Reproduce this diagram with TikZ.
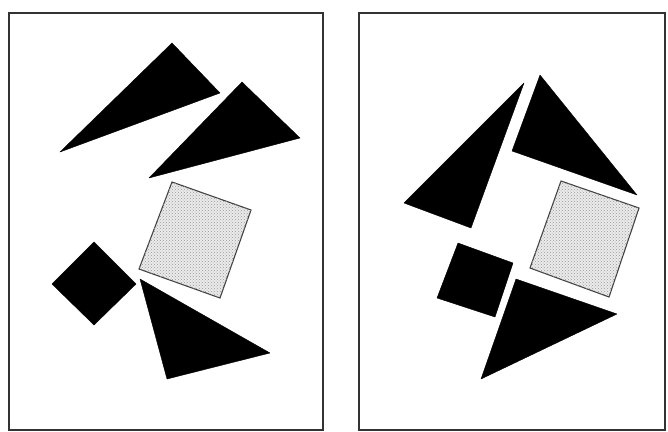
\documentclass[tikz,border=0pt]{standalone}
\usetikzlibrary{patterns}
\begin{document}
\begin{tikzpicture}[x=1pt,y=-1pt,
  frame/.style={draw=black!80,line width=2pt},
  solid piece/.style={fill=black,draw=black,line width=0.4pt,line join=round},
  stipple/.style={fill=black!8,postaction={pattern=crosshatch dots,pattern color=black!40},draw=black!75,line width=1.1pt}]
\useasboundingbox[fill=white] (0,0) rectangle (668,431);
% left panel
\draw[frame] (9,13) rectangle (323,430);
\path[solid piece] (172,43) -- (220,93) -- (60,152) -- cycle;
\path[solid piece] (242,82) -- (300,138) -- (149,178) -- cycle;
\path[stipple] (172,182) -- (251,210) -- (220,298) -- (139,269) -- cycle;
\path[solid piece] (52,284) -- (94,242) -- (136,284) -- (94,325) -- cycle;
\path[solid piece] (140,279) -- (270,353) -- (167,379) -- cycle;
% right panel
\draw[frame] (359,13) rectangle (665,430);
\path[solid piece] (524,83) -- (471,228) -- (404,203) -- cycle;
\path[solid piece] (540,75) -- (637,195) -- (512,151) -- cycle;
\path[stipple] (561,181) -- (639,208) -- (609,297) -- (530,268) -- cycle;
\path[solid piece] (458,243) -- (513,263) -- (495,317) -- (437,298) -- cycle;
\path[solid piece] (516,279) -- (617,314) -- (481,379) -- cycle;
\end{tikzpicture}
\end{document}
